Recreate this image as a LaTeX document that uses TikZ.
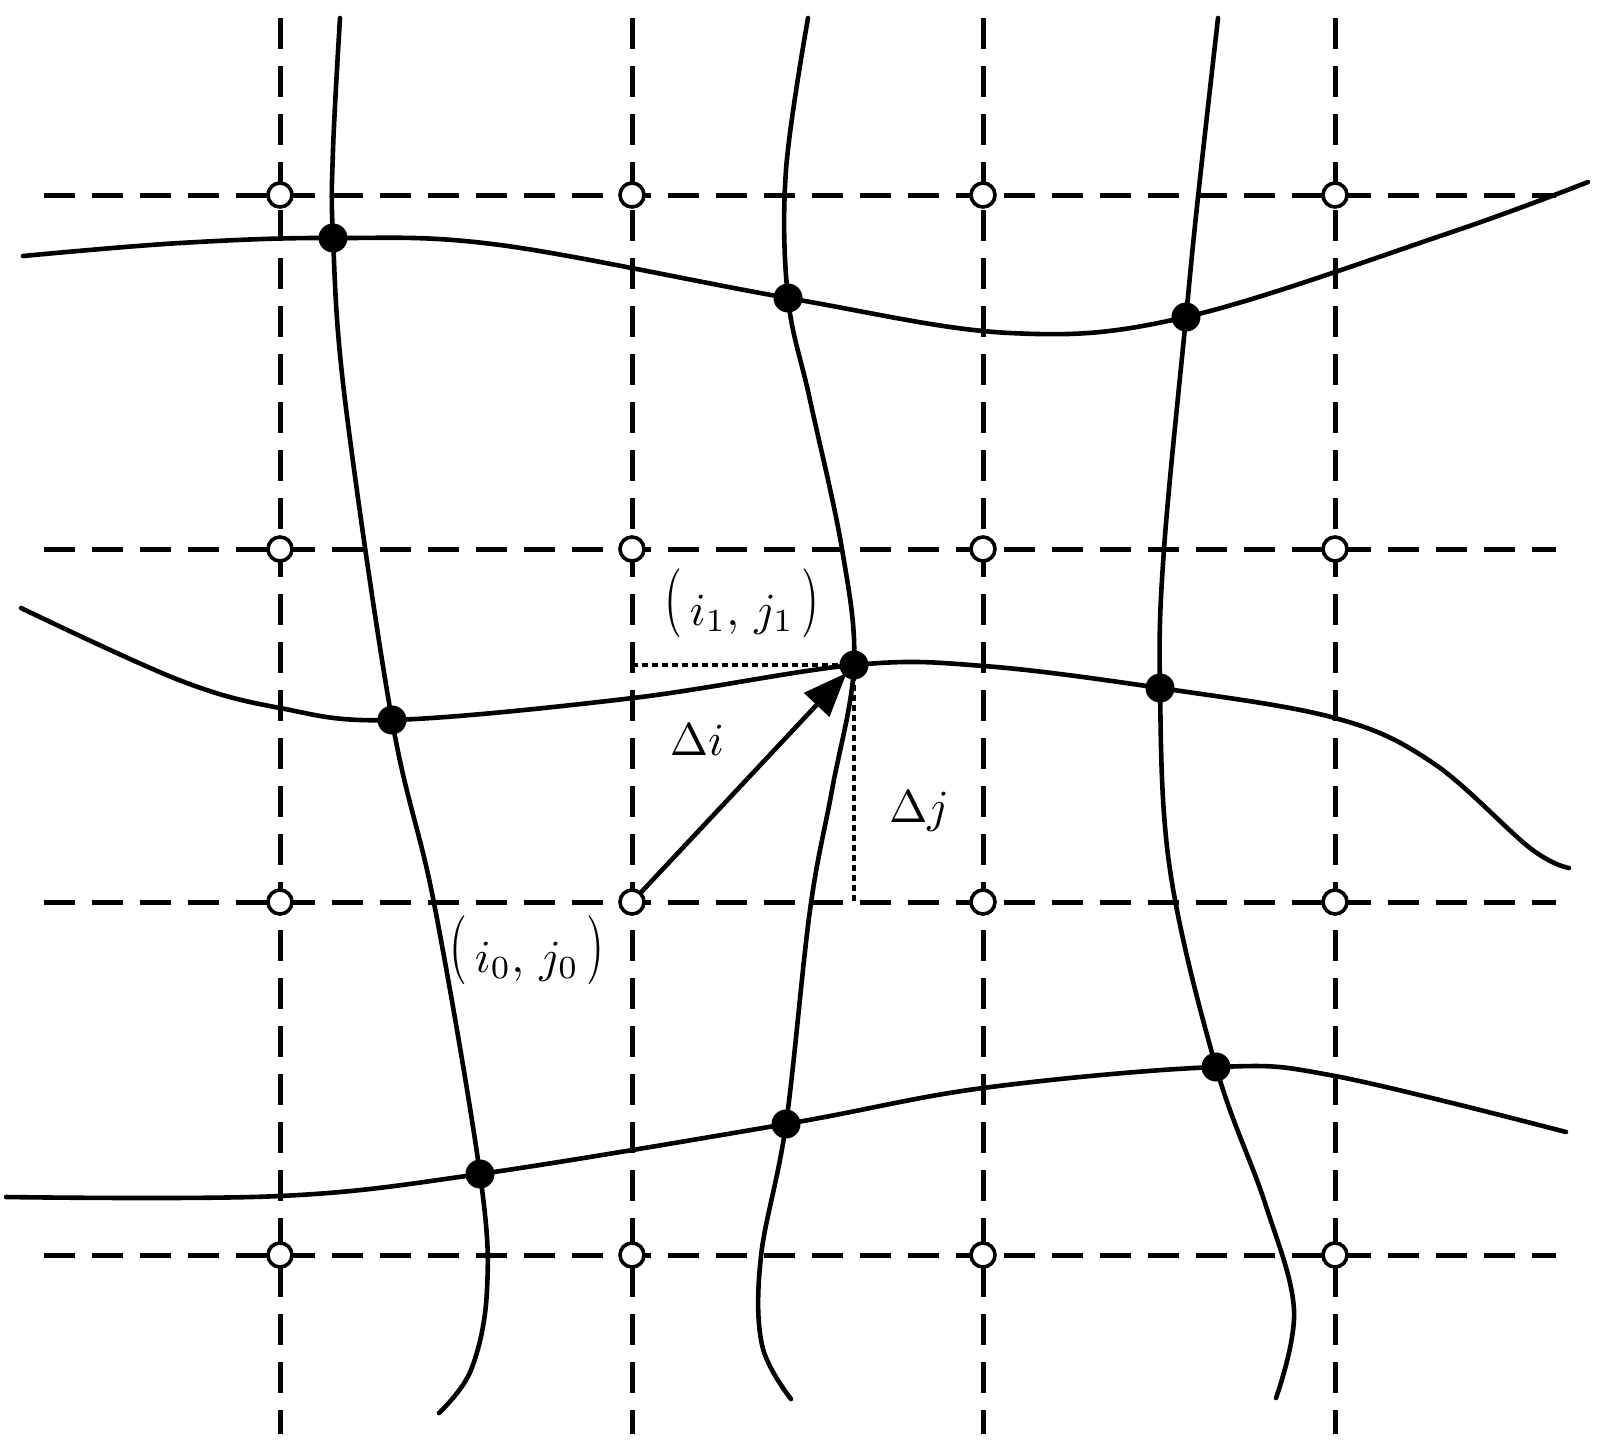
\documentclass[tikz,border=0pt]{standalone}
\usepackage{graphicx}
\usetikzlibrary{arrows.meta}
\newcommand{\lpar}{\mathopen{\raisebox{0.1em}{\scalebox{1}[1.5]{$($}}}}
\newcommand{\rpar}{\mathclose{\raisebox{0.1em}{\scalebox{1}[1.5]{$)$}}}}
\begin{document}
\begin{tikzpicture}[x=1pt,y=-1pt,
  gridline/.style={line width=5pt, dash pattern=on 31pt off 17pt},
  curve/.style={line width=4.6pt, line cap=round, line join=round},
  hollow/.style={circle, draw, fill=white, line width=3.6pt, minimum size=24pt, inner sep=0pt},
  dot/.style={circle, fill=black, minimum size=29pt, inner sep=0pt},
  guide/.style={line width=3.5pt, dash pattern=on 6pt off 4pt},
  lab/.style={font=\normalsize, scale=4.6, inner sep=0pt, anchor=base}]
\useasboundingbox (0,0) rectangle (1601,1452);
% dashed grid
\foreach \x in {280,632,983,1335} \draw[gridline] (\x,18) -- (\x,1434);
\foreach \y in {195,549,902,1255} \draw[gridline] (44,\y) -- (1556,\y);
% grid nodes
\foreach \x [count=\i] in {280,632,983,1335}
  \foreach \y [count=\j] in {195,549,902,1255}
    \node[hollow] (c\i\j) at (\x,\y) {};
% mesh nodes
\node[dot] (dA1) at (333,238) {};
\node[dot] (dB1) at (788,298) {};
\node[dot] (dC1) at (1186,317) {};
\node[dot] (dA2) at (392,720) {};
\node[dot] (dB2) at (854,665) {};
\node[dot] (dC2) at (1160,688) {};
\node[dot] (dA3) at (480,1174) {};
\node[dot] (dB3) at (786,1124) {};
\node[dot] (dC3) at (1216,1067) {};
% mesh curves
\draw[curve] plot[smooth, tension=0.6] coordinates {(340,18) (333,150) (dA1.center) (345,400) (dA2.center) (434,903) (dA3.center) (487,1290) (471,1370) (439,1413)};
\draw[curve] plot[smooth, tension=0.6] coordinates {(808,18) (786,170) (dB1.center) (810,400) (842,549) (dB2.center) (832,790) (810,910) (dB3.center) (761,1256) (762,1345) (791,1399)};
\draw[curve] plot[smooth, tension=0.6] coordinates {(1218,18) (1198,197) (dC1.center) (1164,549) (dC2.center) (1170,870) (dC3.center) (1265,1203) (1294,1310) (1276,1398)};
\draw[curve] plot[smooth, tension=0.6] coordinates {(23,256) (180,243) (dA1.center) (500,245) (dB1.center) (1010,333) (dC1.center) (1449,233) (1588,182)};
\draw[curve] plot[smooth, tension=0.6] coordinates {(21,608) (179,680) (280,708) (dA2.center) (633,698) (dB2.center) (984,666) (dC2.center) (1335,718) (1433,763) (1530,848) (1569,868)};
\draw[curve] plot[smooth, tension=0.6] coordinates {(6,1197) (280,1196) (dA3.center) (dB3.center) (983,1088) (dC3.center) (1335,1076) (1566,1132)};
% offsets
\draw[guide] (c22 |- dB2.center) -- (dB2.center);
\draw[guide] (dB2.center) -- (dB2.center |- c23);
\draw[curve, -{Triangle[length=44pt,width=34pt]}, shorten >=-4pt] (c23) -- (dB2);
% labels
\node[lab] (l1) at (742,625) {$\lpar\, i_1,\, j_1 \,\rpar$};
\node[lab] (l0) at (527,972) {$\lpar\, i_0,\, j_0 \,\rpar$};
\node[lab] (ldi) at (697,755) {$\Delta i$};
\node[lab] (ldj) at (919,822) {$\Delta j$};
\end{tikzpicture}
\end{document}
